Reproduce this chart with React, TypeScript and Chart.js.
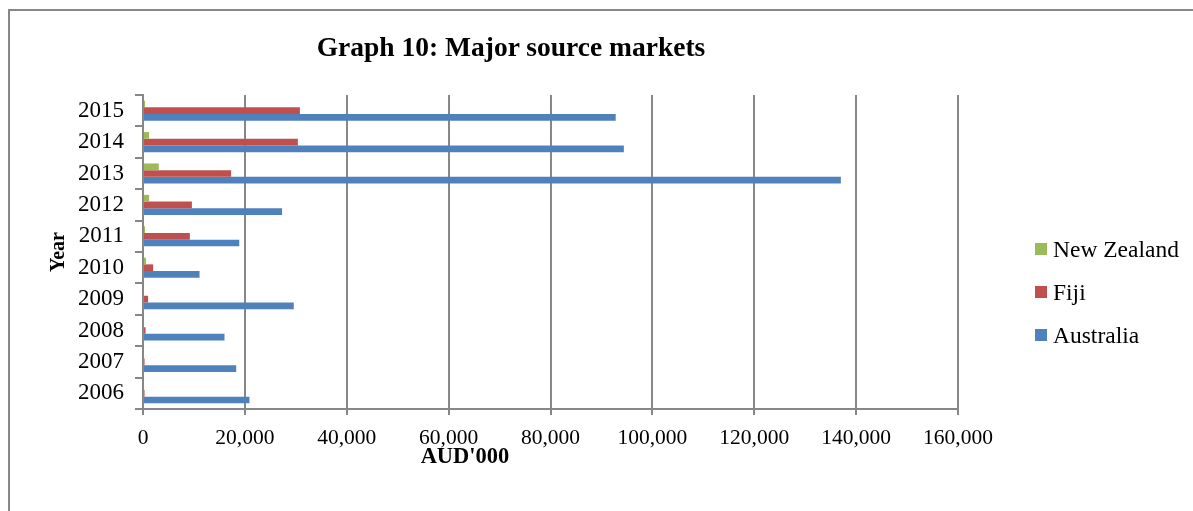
import React, { useEffect, useRef } from "react";
import { Chart, registerables } from "chart.js";

Chart.register(...registerables);

const years = ["2015", "2014", "2013", "2012", "2011", "2010", "2009", "2008", "2007", "2006"];
const newZealand = [400, 1200, 3100, 1200, 400, 600, 0, 0, 0, 0];
const fiji = [30800, 30400, 17300, 9600, 9200, 2000, 1000, 500, 300, 300];
const australia = [92800, 94400, 137000, 27300, 18900, 11100, 29600, 16000, 18300, 20900];
const xTicks = [0, 20000, 40000, 60000, 80000, 100000, 120000, 140000, 160000];

const seriesNames = ["New Zealand", "Fiji", "Australia"];
const seriesColors = ["#9BBB59", "#C0504D", "#4F81BD"];

const FONT = "'Liberation Serif', 'Times New Roman', serif";
const GRID = "#878787";

export default function App() {
  const canvasRef = useRef<HTMLCanvasElement | null>(null);

  useEffect(() => {
    const canvas = canvasRef.current;
    if (!canvas) return;
    const chart = new Chart(canvas, {
      type: "bar",
      data: {
        labels: years,
        datasets: [
          { label: seriesNames[0], data: newZealand, backgroundColor: seriesColors[0] },
          { label: seriesNames[1], data: fiji, backgroundColor: seriesColors[1] },
          { label: seriesNames[2], data: australia, backgroundColor: seriesColors[2] },
        ],
      },
      options: {
        indexAxis: "y",
        animation: false,
        responsive: false,
        maintainAspectRatio: false,
        datasets: { bar: { barPercentage: 1, categoryPercentage: 0.64 } },
        layout: { padding: { left: 0, right: 235, top: 95, bottom: 0 } },
        plugins: {
          legend: { display: false },
          title: { display: false },
          tooltip: { enabled: false },
        },
        scales: {
          x: {
            type: "linear",
            min: 0,
            max: 160000,
            afterFit: (scale: any) => {
              scale.height = 102;
            },
            afterBuildTicks: (scale: any) => {
              scale.ticks = xTicks.map((v) => ({ value: v }));
            },
            ticks: {
              color: "#000",
              padding: 10,
              font: { family: FONT, size: 21.5 },
              callback: (v: any) => Number(v).toLocaleString("en-US"),
            },
            grid: { color: GRID, lineWidth: 2, tickLength: 6, drawTicks: true },
            border: { color: GRID, width: 2 },
          },
          y: {
            type: "category",
            afterFit: (scale: any) => {
              scale.width = 143;
            },
            ticks: {
              color: "#000",
              padding: 11,
              font: { family: FONT, size: 23 },
            },
            grid: {
              offset: true,
              drawOnChartArea: false,
              drawTicks: true,
              tickLength: 8,
              color: GRID,
              lineWidth: 2,
            },
            border: { color: GRID, width: 2 },
            title: {
              display: true,
              text: "Year",
              color: "#000",
              font: { family: FONT, size: 20, weight: "bold" },
              padding: { top: 47, bottom: 0 },
            },
          },
        },
      },
    });
    return () => chart.destroy();
  }, []);

  return (
    <div style={{ position: "fixed", left: 0, top: 0, width: 1193, height: 511, background: "#fff", overflow: "hidden" }}>
      <div
        style={{
          position: "absolute",
          left: 8,
          top: 9,
          width: 1300,
          height: 700,
          border: `2px solid ${GRID}`,
          boxSizing: "border-box",
        }}
      />
      <canvas ref={canvasRef} width={1193} height={511} style={{ position: "absolute", left: 0, top: 0, width: 1193, height: 511 }} />
      <div
        style={{
          position: "absolute",
          left: 261,
          width: 500,
          top: 31,
          textAlign: "center",
          fontFamily: FONT,
          fontWeight: "bold",
          fontSize: 27.5,
          lineHeight: "32px",
          color: "#000",
          whiteSpace: "nowrap",
        }}
      >
        Graph 10: Major source markets
      </div>
      <div
        style={{
          position: "absolute",
          left: 405,
          width: 120,
          top: 443,
          textAlign: "center",
          fontFamily: FONT,
          fontWeight: "bold",
          fontSize: 22.5,
          lineHeight: "26px",
          color: "#000",
        }}
      >
        AUD'000
      </div>
      {seriesNames.map((name, i) => (
        <div
          key={name}
          style={{
            position: "absolute",
            left: 1035,
            top: 236 + i * 43,
            height: 26,
            display: "flex",
            alignItems: "center",
            fontFamily: FONT,
            fontSize: 23.5,
            color: "#000",
            whiteSpace: "nowrap",
          }}
        >
          <span style={{ display: "inline-block", width: 12, height: 12, background: seriesColors[i], marginRight: 6 }} />
          {name}
        </div>
      ))}
    </div>
  );
}
